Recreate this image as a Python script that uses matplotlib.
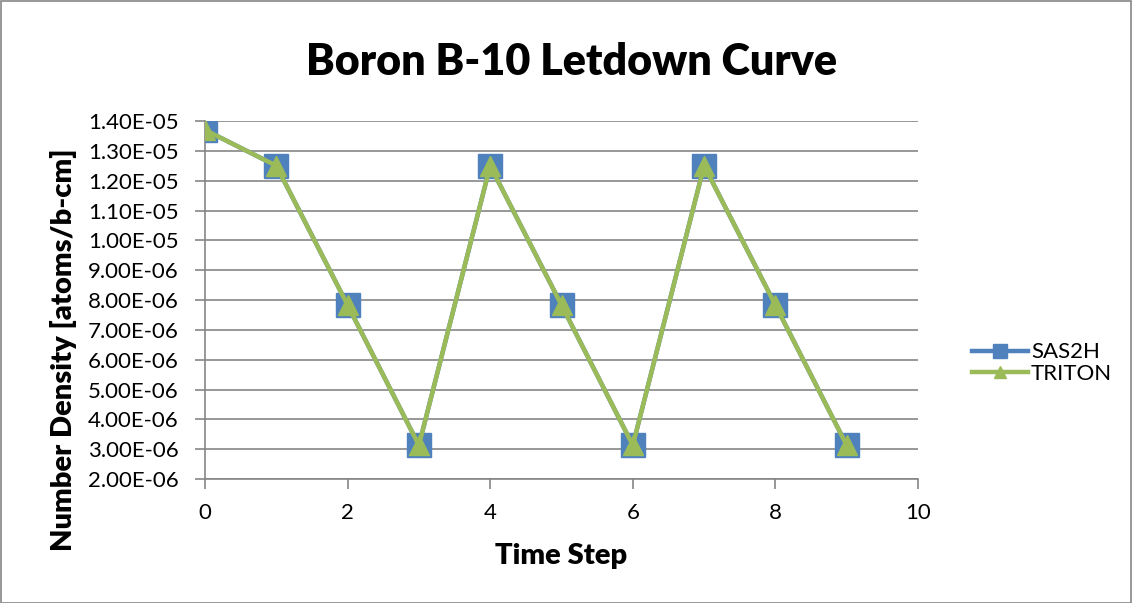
import matplotlib
matplotlib.use("Agg")
import matplotlib.pyplot as plt
from matplotlib.patches import Rectangle

# Boron-10 number density at each depletion time step
time_step = [0, 1, 2, 3, 4, 5, 6, 7, 8, 9]
sas2h = [1.37e-05, 1.25e-05, 7.83e-06, 3.13e-06, 1.25e-05, 7.83e-06, 3.13e-06, 1.25e-05, 7.83e-06, 3.13e-06]
triton = [1.37e-05, 1.25e-05, 7.83e-06, 3.13e-06, 1.25e-05, 7.83e-06, 3.13e-06, 1.25e-05, 7.83e-06, 3.13e-06]

y_ticks = [2.0e-06 + i * 1.0e-06 for i in range(13)]
x_ticks = [0, 2, 4, 6, 8, 10]

plt.rcParams['font.family'] = ['Lato', 'DejaVu Sans']

fig = plt.figure(figsize=(11.32, 6.03), dpi=100)
ax = fig.add_axes([205 / 1132, 1 - 479 / 603, (918 - 205) / 1132, (479 - 121) / 603])

blue = '#4F81BD'
green = '#9BBB59'
grid = '#868686'

ax.plot(time_step, sas2h, color=blue, lw=3.2, marker='s', markersize=17.5,
        markerfacecolor=blue, markeredgecolor=blue, label='SAS2H', zorder=3,
        solid_joinstyle='round')
ax.plot(time_step, triton, color=green, lw=3.2, marker='^', markersize=15,
        markerfacecolor=green, markeredgecolor=green, label='TRITON', zorder=4,
        solid_joinstyle='round')

ax.set_xlim(0, 10)
ax.set_ylim(2.0e-06, 1.4e-05)
ax.set_xticks(x_ticks)
ax.set_yticks(y_ticks)
ax.set_yticklabels([f"{v:.2E}" for v in y_ticks])
ax.yaxis.grid(True, color=grid, lw=1.2)
ax.set_axisbelow(True)

for side in ('top', 'right'):
    ax.spines[side].set_visible(False)
for side in ('left', 'bottom'):
    ax.spines[side].set_color(grid)
    ax.spines[side].set_linewidth(1.2)
ax.tick_params(axis='both', colors=grid, length=7, width=1.2, labelsize=16,
               labelcolor='black')
ax.tick_params(axis='x', pad=10)
ax.tick_params(axis='y', pad=12)

ax.set_xlabel('Time Step', fontsize=21, fontweight='heavy', va='center')
ax.xaxis.set_label_coords(0.5, -0.215)
ax.set_ylabel('Number Density [atoms/b-cm]', fontsize=21, fontweight='heavy', va='center')
ax.yaxis.set_label_coords(-0.199, 0.36)
fig.text(572 / 1132, 1 - 62 / 603, 'Boron B-10 Letdown Curve', fontsize=31,
         fontweight='heavy', ha='center', va='center')

leg = fig.legend(loc='center left', bbox_to_anchor=(972 / 1132, 1 - 363 / 603),
                 frameon=False, fontsize=16, handlelength=2.5, handletextpad=0.15,
                 labelspacing=0.05, markerscale=0.6, borderpad=0, borderaxespad=0)

fig.patches.append(Rectangle((0.5 / 1132, 0.5 / 603), 1 - 1.5 / 1132, 1 - 1.5 / 603,
                             transform=fig.transFigure, fill=False,
                             edgecolor=grid, lw=1.2))

fig.savefig('out.png', dpi=100)
